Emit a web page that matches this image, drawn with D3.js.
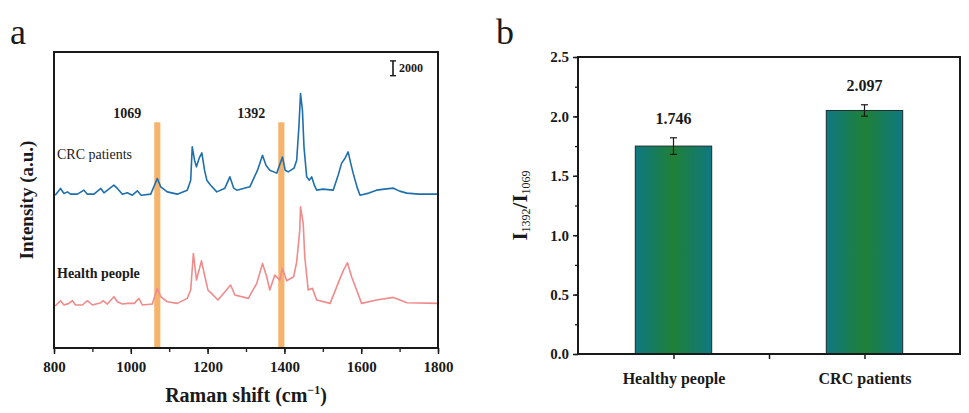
<!DOCTYPE html>
<html>
<head>
<meta charset="utf-8">
<script src="https://cdn.jsdelivr.net/npm/d3@7"></script>
<style>
  body { margin: 0; background: #fff; }
  svg text { font-family: "Liberation Serif", "Times New Roman", Times, "DejaVu Serif", serif !important; }
</style>
</head>
<body>
<svg id="chart" width="969" height="413"></svg>
<script>
// ---- panel a: Raman spectra (wavenumber, intensity in counts) ----
const crcShift = [803, 817, 826, 835, 843, 861, 878, 887, 904, 922, 930, 956, 965, 978, 991, 1004, 1017, 1027, 1052, 1069,
  1078, 1095, 1121, 1147, 1156, 1160, 1166, 1171, 1178, 1185, 1192, 1198, 1208, 1224, 1245, 1258, 1268, 1276, 1310, 1330,
  1343, 1352, 1362, 1380, 1395, 1402, 1410, 1425, 1432, 1438, 1442, 1447, 1451, 1458, 1465, 1471, 1478, 1484, 1500, 1527,
  1540, 1549, 1558, 1566, 1572, 1579, 1590, 1597, 1620, 1640, 1660, 1684, 1700, 1719, 1750, 1800];
const crcIntensity = [1750, 2660, 1985, 2200, 1890, 1890, 2430, 1890, 1890, 2660, 2070, 3100, 2660, 1890, 2070, 1750, 2340, 1750, 1890, 4000,
  2880, 2200, 1890, 2430, 3780, 8280, 6480, 5580, 6750, 7470, 5130, 3780, 3100, 2200, 2700, 4230, 2700, 2430, 2880, 5130,
  7150, 5800, 5130, 4730, 6900, 5130, 4900, 5400, 6480, 11200, 15480, 13200, 8280, 4230, 3780, 4230, 3100, 2430, 2570, 2430,
  4450, 6080, 6750, 7600, 6210, 4730, 2700, 1750, 2030, 2430, 2570, 2700, 2300, 2030, 1890, 1890];

const healthShift = [803, 817, 826, 839, 848, 856, 874, 887, 900, 922, 928, 939, 956, 965, 978, 991, 1009, 1021, 1030, 1056,
  1069, 1078, 1095, 1121, 1147, 1156, 1163, 1171, 1184, 1193, 1201, 1210, 1227, 1260, 1271, 1306, 1328, 1343, 1354, 1362,
  1375, 1388, 1395, 1406, 1424, 1432, 1440, 1442, 1449, 1453, 1462, 1473, 1484, 1519, 1545, 1554, 1564, 1575, 1588, 1601,
  1640, 1684, 1719, 1800];
const healthIntensity = [1890, 2610, 2030, 2250, 2610, 2030, 2030, 2610, 2030, 2340, 2610, 2160, 3150, 2470, 2160, 2250, 2250, 2930, 2030, 2160,
  4280, 3150, 2470, 2250, 2930, 4050, 9000, 5400, 8000, 5850, 4050, 3600, 2700, 4725, 3375, 2925, 4950, 7650, 5850, 4050,
  6075, 5400, 6975, 5310, 5850, 7870, 12150, 15300, 13050, 8550, 4050, 4280, 2700, 2250, 5630, 6750, 7740, 5850, 4050, 2250,
  2700, 3060, 2340, 2250];

const spectrumNames = ["CRC patients", "Health people"];
const spectrumOffsets = [18900, 3780];
const markedPeaks = [1069, 1392];
const xTicksA = [800, 1000, 1200, 1400, 1600, 1800];
const scaleBarValue = 2000;

// ---- panel b: I1392/I1069 ratio ----
const groups = ["Healthy people", "CRC patients"];
const ratios = [1.75, 2.05];
const ratioErrors = [0.07, 0.048];
const ratioLabels = ["1.746", "2.097"];
const yTicksB = [0, 0.5, 1.0, 1.5, 2.0, 2.5];

const svg = d3.select("#chart");
const ink = "#1a1a1a";

function styleText(sel, size, bold) {
  sel.attr("font-size", size)
    .attr("font-weight", bold ? "bold" : "normal")
    .attr("fill", ink);
  return sel;
}

// ================= panel a =================
const A = {left: 54, right: 438, top: 52, bottom: 348};
const xA = d3.scaleLinear().domain([800, 1800]).range([A.left, A.right]);
const yA = d3.scaleLinear().domain([0, 40000]).range([A.bottom, A.top]);

const gA = svg.append("g");

// peak marker bands
gA.selectAll("rect.peak")
  .data(markedPeaks)
  .enter()
  .append("rect")
  .attr("class", "peak")
  .attr("x", d => xA(d - 8))
  .attr("width", d => xA(d + 8) - xA(d - 8))
  .attr("y", yA(30500))
  .attr("height", yA(0) - yA(30500))
  .attr("fill", "#f5a651")
  .attr("opacity", 0.85);

gA.selectAll("text.peak")
  .data(markedPeaks)
  .enter()
  .append("text")
  .attr("class", "peak")
  .attr("x", d => xA(d) - 30)
  .attr("y", yA(31100))
  .attr("text-anchor", "middle")
  .call(styleText, 14, true)
  .text(d => d);

const spectra = [
  {shift: crcShift, intensity: crcIntensity, color: "#1f6fad"},
  {shift: healthShift, intensity: healthIntensity, color: "#f08b8b"}
];

const line = d3.line();
spectra.forEach((s, i) => {
  const pts = s.shift.map((w, k) => [xA(w), yA(s.intensity[k] + spectrumOffsets[i])]);
  gA.append("path")
    .attr("d", line(pts))
    .attr("fill", "none")
    .attr("stroke", s.color)
    .attr("stroke-width", 1.6)
    .attr("stroke-linejoin", "round");
});

// series labels
gA.append("text")
  .attr("x", 57).attr("y", yA(spectrumOffsets[0] + 6600))
  .call(styleText, 14, false)
  .text(spectrumNames[0]);
gA.append("text")
  .attr("x", 57).attr("y", yA(spectrumOffsets[1] + 5700))
  .call(styleText, 14, true)
  .text(spectrumNames[1]);

// scale bar
const sbX = 393, sbTop = yA(38800);
const sbBot = sbTop + (yA(0) - yA(scaleBarValue));
gA.append("line").attr("x1", sbX).attr("x2", sbX).attr("y1", sbTop).attr("y2", sbBot)
  .attr("stroke", ink).attr("stroke-width", 1.6);
[sbTop, sbBot].forEach(y => gA.append("line")
  .attr("x1", sbX - 3).attr("x2", sbX + 3).attr("y1", y).attr("y2", y)
  .attr("stroke", ink).attr("stroke-width", 1.4));
gA.append("text")
  .attr("x", sbX + 6).attr("y", (sbTop + sbBot) / 2 + 4)
  .call(styleText, 12, true)
  .text(scaleBarValue);

// axes
gA.append("g")
  .attr("transform", "translate(0," + A.bottom + ")")
  .call(d3.axisBottom(xA).tickValues(d3.range(800, 1801, 100)).tickSize(4).tickFormat(""))
  .call(g => g.select(".domain").remove())
  .call(g => g.selectAll("line").attr("stroke", ink).attr("stroke-width", 1.3));
gA.append("g")
  .attr("transform", "translate(0," + A.bottom + ")")
  .call(d3.axisBottom(xA).tickValues(xTicksA).tickSize(6).tickPadding(7).tickFormat(d3.format("d")))
  .call(g => g.select(".domain").remove())
  .call(g => g.selectAll("line").attr("stroke", ink).attr("stroke-width", 1.5))
  .call(g => g.selectAll("text").call(styleText, 15, true));

gA.append("rect")
  .attr("x", A.left).attr("y", A.top)
  .attr("width", A.right - A.left).attr("height", A.bottom - A.top)
  .attr("fill", "none").attr("stroke", ink).attr("stroke-width", 2);

const xTitleA = gA.append("text")
  .attr("x", (A.left + A.right) / 2).attr("y", 402)
  .attr("text-anchor", "middle")
  .call(styleText, 20, true);
xTitleA.append("tspan").text("Raman shift (cm");
xTitleA.append("tspan").attr("dy", -8).attr("font-size", 12).text("−1");
xTitleA.append("tspan").attr("dy", 8).text(")");

gA.append("text")
  .attr("transform", "translate(33," + (A.top + A.bottom) / 2 + ") rotate(-90)")
  .attr("text-anchor", "middle")
  .call(styleText, 19, true)
  .text("Intensity (a.u.)");

gA.append("text").attr("x", 10).attr("y", 44)
  .call(styleText, 36, false).text("a");

// ================= panel b =================
const B = {left: 578, right: 960, top: 57, bottom: 354};
const xB = d3.scaleLinear().domain([0.5, 2.5]).range([B.left, B.right]);
const yB = d3.scaleLinear().domain([0, 2.5]).range([B.bottom, B.top]);
const gB = svg.append("g");
const barW = 0.4;

const grad = svg.append("defs").append("linearGradient")
  .attr("id", "barGrad").attr("x1", "0%").attr("x2", "100%").attr("y1", "0%").attr("y2", "0%");
[["0%", "#0f7882"], ["50%", "#1f8036"], ["100%", "#0f7882"]].forEach(([o, c]) =>
  grad.append("stop").attr("offset", o).attr("stop-color", c));

gB.selectAll("rect.bar")
  .data(ratios)
  .enter()
  .append("rect")
  .attr("class", "bar")
  .attr("x", (d, i) => xB(i + 1 - barW / 2))
  .attr("width", xB(1 + barW / 2) - xB(1 - barW / 2))
  .attr("y", d => yB(d))
  .attr("height", d => yB(0) - yB(d))
  .attr("fill", "url(#barGrad)")
  .attr("stroke", "#1c2b2b").attr("stroke-width", 1);

// error bars
ratios.forEach((d, i) => {
  const cx = xB(i + 1);
  const e = ratioErrors[i];
  gB.append("line").attr("x1", cx).attr("x2", cx).attr("y1", yB(d + e)).attr("y2", yB(d - e))
    .attr("stroke", ink).attr("stroke-width", 1.2);
  [d + e, d - e].forEach(v => gB.append("line")
    .attr("x1", cx - 3.5).attr("x2", cx + 3.5).attr("y1", yB(v)).attr("y2", yB(v))
    .attr("stroke", ink).attr("stroke-width", 1.2));
});

gB.selectAll("text.val")
  .data(ratioLabels)
  .enter()
  .append("text")
  .attr("class", "val")
  .attr("x", (d, i) => xB(i + 1))
  .attr("y", (d, i) => yB(ratios[i] + ratioErrors[i]) - 14)
  .attr("text-anchor", "middle")
  .call(styleText, 16, true)
  .text(d => d);

// axes
gB.append("g")
  .attr("transform", "translate(" + B.left + ",0)")
  .call(d3.axisLeft(yB).tickValues(d3.range(0, 2.51, 0.25)).tickSize(3).tickFormat(""))
  .call(g => g.select(".domain").remove())
  .call(g => g.selectAll("line").attr("stroke", ink).attr("stroke-width", 1.3));
gB.append("g")
  .attr("transform", "translate(" + B.left + ",0)")
  .call(d3.axisLeft(yB).tickValues(yTicksB).tickSize(5).tickPadding(4).tickFormat(d3.format(".1f")))
  .call(g => g.select(".domain").remove())
  .call(g => g.selectAll("line").attr("stroke", ink).attr("stroke-width", 1.5))
  .call(g => g.selectAll("text").call(styleText, 15, true));

gB.append("g")
  .attr("transform", "translate(0," + B.bottom + ")")
  .call(d3.axisBottom(xB).tickValues([1, 1.5, 2]).tickSize(5).tickPadding(14)
    .tickFormat(d => Number.isInteger(d) ? groups[d - 1] : ""))
  .call(g => g.select(".domain").remove())
  .call(g => g.selectAll("line").attr("stroke", ink).attr("stroke-width", 1.5))
  .call(g => g.selectAll("text").call(styleText, 16, true));

gB.append("rect")
  .attr("x", B.left).attr("y", B.top)
  .attr("width", B.right - B.left).attr("height", B.bottom - B.top)
  .attr("fill", "none").attr("stroke", ink).attr("stroke-width", 2);

const yTitleB = gB.append("text")
  .attr("transform", "translate(527," + (B.top + B.bottom) / 2 + ") rotate(-90)")
  .attr("text-anchor", "middle")
  .call(styleText, 21, true);
yTitleB.append("tspan").text("I");
yTitleB.append("tspan").attr("dy", 3).attr("font-size", 12).attr("font-weight", "normal").text("1392");
yTitleB.append("tspan").attr("dy", -3).text("/I");
yTitleB.append("tspan").attr("dy", 3).attr("font-size", 12).attr("font-weight", "normal").text("1069");

gB.append("text").attr("x", 496).attr("y", 44)
  .call(styleText, 36, false).text("b");
</script>
</body>
</html>
